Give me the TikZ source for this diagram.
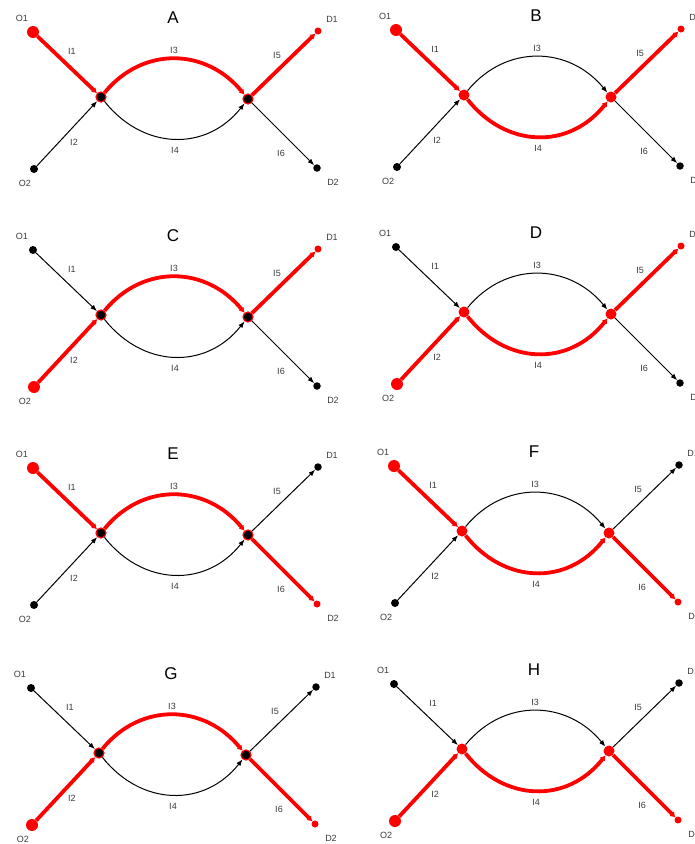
\documentclass[tikz,border=0pt]{standalone}
\usepackage{fontspec}
\setmainfont{Liberation Sans}
\usetikzlibrary{arrows.meta}
\definecolor{lab}{HTML}{3A3A3A}
\tikzset{
  dot/.style={circle,inner sep=0pt,draw=none},
  srcR/.style={dot,fill=red,minimum size=12pt},
  srcB/.style={dot,fill=black,minimum size=8pt},
  dstR/.style={dot,fill=red,minimum size=7pt},
  dstB/.style={dot,fill=black,minimum size=7.5pt},
  midU/.style={dot,fill=black,draw=red,line width=1.2pt,minimum size=10pt},
  midL/.style={dot,fill=red,minimum size=11pt},
  blkE/.style={draw=black,line width=1pt,-{Latex[length=6.5pt,width=5pt]}},
  redE/.style={draw=red,line width=3.8pt,-{Latex[length=5pt,width=6.5pt]}},
  lbl/.style={text=lab,font=\fontsize{9}{11}\selectfont,inner sep=0pt},
  ttl/.style={text=black,font=\fontsize{17}{20}\selectfont,inner sep=0pt},
}
% #1 prefix, #2 x, #3 y, #4 title, #5 source edge (1/2), #6 middle (3/4), #7 exit (5/6)
\newcommand\drawpanel[7]{%
\begin{scope}[shift={(#2,#3)}]
  \ifnum#5=1 \def\myOa{srcR}\def\myOb{srcB}%
  \else \def\myOa{srcB}\def\myOb{srcR}\fi
  \ifnum#6=3 \def\myNn{midU}%
  \else \def\myNn{midL}\fi
  \ifnum#7=5 \def\myDa{dstR}\def\myDb{dstB}%
  \else \def\myDa{dstB}\def\myDb{dstR}\fi
  \node[\myOa] (#1O1) at (0,0) {};
  \node[\myOb] (#1O2) at (1,137) {};
  \node[\myNn] (#1N1) at (68,65) {};
  \node[\myNn] (#1N2) at (215,67) {};
  \node[\myDa] (#1D1) at (285,-1) {};
  \node[\myDb] (#1D2) at (284,136) {};
  % black edges first
  \ifnum#5=1 \draw[blkE] (#1O2) -- (#1N1);\else \draw[blkE] (#1O1) -- (#1N1);\fi
  \ifnum#6=3 \draw[blkE] (#1N1) .. controls +(42,53) and +(-42,53) .. (#1N2);%
  \else \draw[blkE] (#1N1) .. controls +(42,-51) and +(-42,-51) .. (#1N2);\fi
  \ifnum#7=5 \draw[blkE] (#1N2) -- (#1D2);\else \draw[blkE] (#1N2) -- (#1D1);\fi
  % red edges
  \ifnum#5=1 \draw[redE] (#1O1) -- (#1N1);\else \draw[redE] (#1O2) -- (#1N1);\fi
  \ifnum#6=3 \draw[redE] (#1N1) .. controls +(42,-51) and +(-42,-51) .. (#1N2);%
  \else \draw[redE] (#1N1) .. controls +(42,53) and +(-42,53) .. (#1N2);\fi
  \ifnum#7=5 \draw[redE] (#1N2) -- (#1D1);\else \draw[redE] (#1N2) -- (#1D2);\fi
  % labels
  \node[ttl] (#1T) at (140,-14) {#4};
  \node[lbl] (#1lO1) at (-11,-14) {O1};
  \node[lbl] (#1lO2) at (-8,151) {O2};
  \node[lbl] (#1lD1) at (299,-13) {D1};
  \node[lbl] (#1lD2) at (300,150) {D2};
  \node[lbl] (#1l1) at (39,19) {I1};
  \node[lbl] (#1l2) at (41,110) {I2};
  \node[lbl] (#1l3) at (141,18) {I3};
  \node[lbl] (#1l4) at (142,118) {I4};
  \node[lbl] (#1l5) at (244,23) {I5};
  \node[lbl] (#1l6) at (248,121) {I6};
\end{scope}}
\begin{document}
\begin{tikzpicture}[x=1pt,y=-1pt]
\useasboundingbox (0,0) rectangle (694,844);
\clip (0,0) rectangle (694,844);
\drawpanel{a}{33}{32}{A}{1}{3}{5}
\drawpanel{b}{396}{30}{B}{1}{4}{5}
\drawpanel{c}{33}{250}{C}{2}{3}{5}
\drawpanel{d}{396}{247}{D}{2}{4}{5}
\drawpanel{e}{33}{468}{E}{1}{3}{6}
\drawpanel{f}{394}{466}{F}{1}{4}{6}
\drawpanel{g}{31}{688}{G}{2}{3}{6}
\drawpanel{h}{394}{684}{H}{2}{4}{6}
\end{tikzpicture}
\end{document}
